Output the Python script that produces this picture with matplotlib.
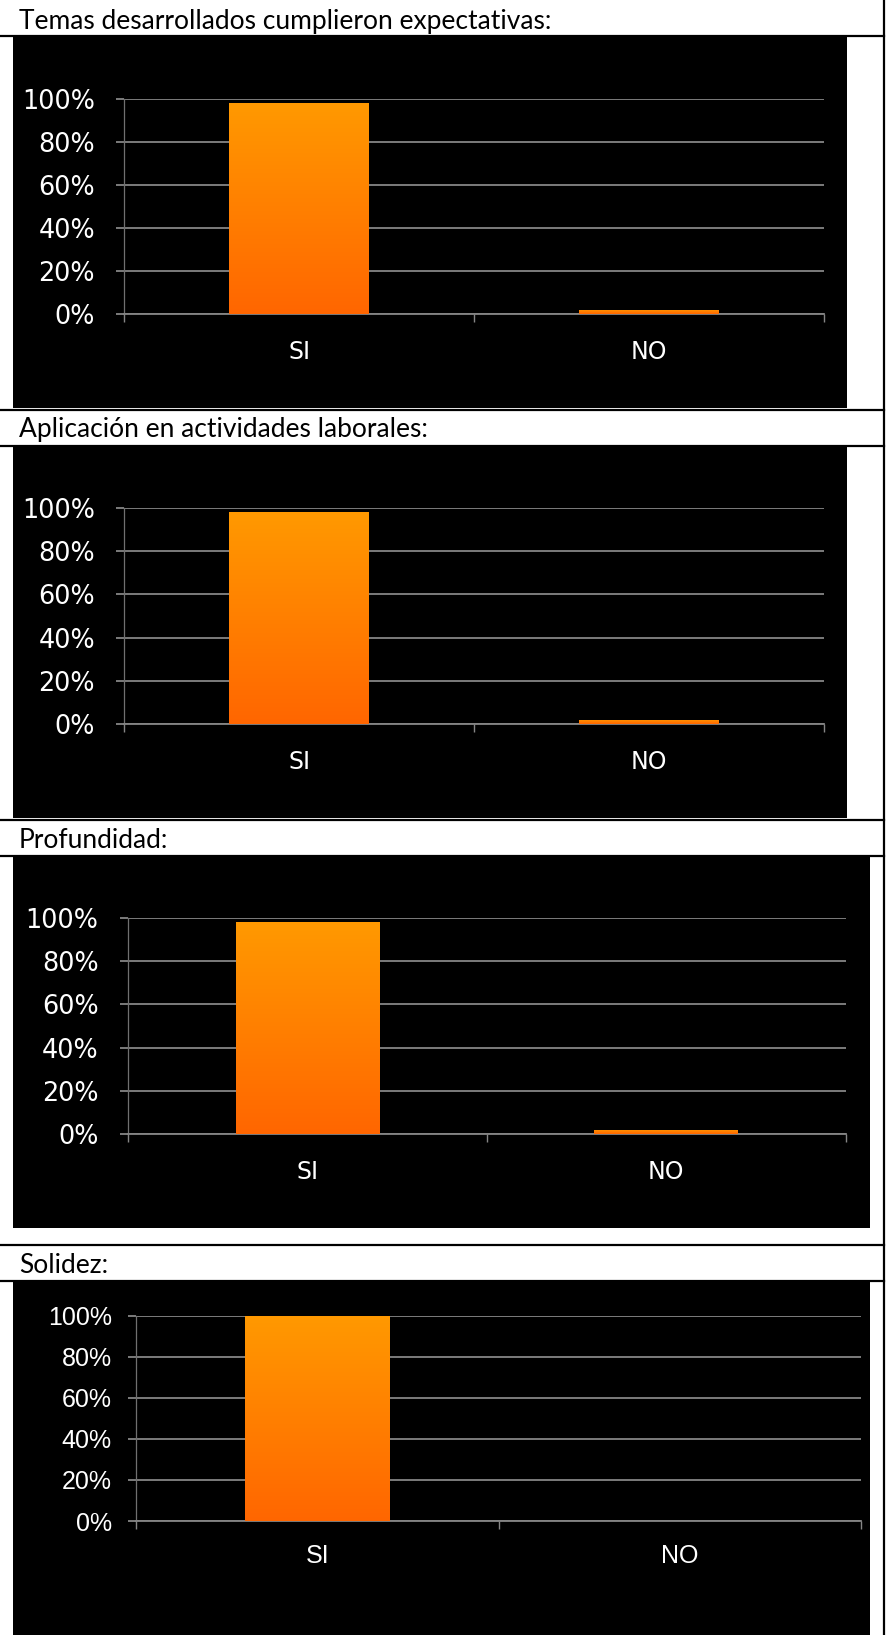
import numpy as np
import matplotlib
matplotlib.use("Agg")
import matplotlib.pyplot as plt
from matplotlib.patches import Rectangle
from matplotlib.lines import Line2D
from matplotlib.colors import LinearSegmentedColormap

# ---- data -------------------------------------------------------------
titles = [
    "Temas desarrollados cumplieron expectativas:",
    "Aplicación en actividades laborales:",
    "Profundidad:",
    "Solidez:",
]
categories = ["SI", "NO"]
temas = [98, 2]
aplicacion = [98, 2]
profundidad = [98, 2]
solidez = [100, 0]
series = [temas, aplicacion, profundidad, solidez]
y_ticks = [0, 20, 40, 60, 80, 100]

# ---- page geometry (pixels) -------------------------------------------
W, H = 886, 1635
DPI = 100
fig = plt.figure(figsize=(W / DPI, H / DPI), dpi=DPI)
fig.patch.set_facecolor("white")


def fx(x):
    return x / W


def fy(y):
    return 1 - y / H


# title rows: (top line, bottom line, text baseline)
title_rows = [(None, 36, 28.5), (410, 446, 437.5), (820, 856, 847.5), (1245, 1281, 1272.5)]
# black chart blocks: (left, top, right, bottom)
blocks = [(12.5, 37, 847, 408), (12.5, 447, 847, 818),
          (12.5, 857, 870, 1228), (12.5, 1282, 870, 1635)]
# plot areas: (left, top, right, bottom)
plots = [(124.5, 98.7, 824, 314), (124.5, 508, 824, 724),
         (128, 918, 845.5, 1134), (136.4, 1315.7, 861.3, 1521)]
# (family, x label size, y label size)
tick_font = [("DejaVu Sans", 17, 18.4), ("DejaVu Sans", 17, 18.4),
             ("DejaVu Sans", 17, 18.4), ("Liberation Sans", 18, 18)]
xpad = [13.0, 13.0, 13.0, 11]
ypad = [15.5, 15.5, 15.5, 12]

grid_col = "#858585"
line_kw = dict(color="black", lw=1.6, transform=fig.transFigure)

# table rules
for top, bottom, base in title_rows:
    for yy in (top, bottom):
        if yy is not None:
            fig.add_artist(Line2D([0, fx(884)], [fy(yy), fy(yy)], **line_kw))
fig.add_artist(Line2D([fx(883.5), fx(883.5)], [0, 1], **line_kw))

for (top, bottom, base), title in zip(title_rows, titles):
    fig.text(fx(19), fy(base), title, family=["Lato", "DejaVu Sans"],
             fontsize=19, color="black", va="baseline", ha="left")

for l, t, r, b in blocks:
    fig.add_artist(Rectangle((fx(l), fy(b)), fx(r - l), (b - t) / H,
                             transform=fig.transFigure, facecolor="black",
                             edgecolor="none", zorder=0))

cmap = LinearSegmentedColormap.from_list("bar", ["#FF6600", "#FF9900"])
grad = np.linspace(0, 1, 256).reshape(-1, 1)

for vals, (l, t, r, b), (fam, xfs, yfs), xp, yp in zip(series, plots, tick_font, xpad, ypad):
    ax = fig.add_axes([fx(l), fy(b), fx(r - l), (b - t) / H])
    ax.set_facecolor("none")
    xs = np.arange(len(categories))
    bars = ax.bar(xs, vals, width=0.4, color="#FF8000", zorder=2)
    for rect in bars:
        x0, y0 = rect.get_x(), rect.get_y()
        w, h = rect.get_width(), rect.get_height()
        if h <= 0:
            continue
        im = ax.imshow(grad, extent=[x0, x0 + w, y0, y0 + h], origin="lower",
                       cmap=cmap, aspect="auto", zorder=3, interpolation="bilinear")
        im.set_clip_path(rect)
    ax.set_xlim(-0.5, len(categories) - 0.5)
    ax.set_ylim(0, 100)
    ax.set_yticks(y_ticks)
    ax.set_yticklabels([f"{v}%" for v in y_ticks])
    ax.set_xticks(xs)
    ax.set_xticklabels(categories)
    ax.set_xticks(np.arange(len(categories) + 1) - 0.5, minor=True)
    ax.yaxis.grid(True, color=grid_col, lw=1.3, zorder=1)
    ax.set_axisbelow(True)
    for s in ("top", "right"):
        ax.spines[s].set_visible(False)
    ax.spines["left"].set_color("#707070")
    ax.spines["left"].set_linewidth(0.9)
    ax.spines["bottom"].set_color(grid_col)
    ax.spines["bottom"].set_linewidth(1.3)
    ax.tick_params(axis="x", which="major", length=0, pad=xp + 5.8,
                   labelcolor="white", labelsize=xfs)
    ax.tick_params(axis="x", which="minor", length=5.8, width=1.0,
                   color=grid_col, direction="out")
    ax.tick_params(axis="y", which="major", length=5.8, width=1.3,
                   color=grid_col, direction="out", pad=yp, labelcolor="white",
                   labelsize=yfs)
    for lab in ax.get_xticklabels() + ax.get_yticklabels():
        lab.set_family([fam, "DejaVu Sans"])

fig.savefig("out.png", dpi=DPI, facecolor="white")
